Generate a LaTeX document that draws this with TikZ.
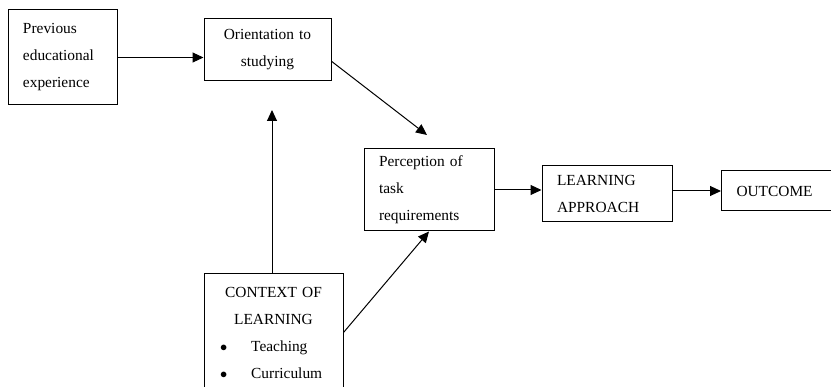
\documentclass[tikz,border=0pt]{standalone}
\usepackage{fontspec}
\setmainfont{Liberation Serif}
\usetikzlibrary{positioning}
\usetikzlibrary{arrows.meta}
\usetikzlibrary{calc}

\begin{document}
\begin{tikzpicture}[x=1pt,y=-1pt,
		box/.style={draw,line width=1pt,inner ysep=0pt,font=\fontsize{15.4}{27}\selectfont},
		arr/.style={line width=1pt,-{Triangle[length=11pt,width=10pt]}}]
		\useasboundingbox (0,0) rectangle (831,387);
		\node (prev)    [box,text width=79pt,inner xsep=15pt,align=left,minimum height=95pt] at (62.5,57.5) {Previous\\educational\\experience};
		\node (orient)  [box,text width=97pt,inner xsep=15pt,align=center,minimum height=62pt] at (267.5,50) {Orientation to\\studying};
		\node (percep)  [box,text width=100pt,inner xsep=15pt,align=left,minimum height=82pt] at (429,190) {Perception of\\task\\requirements};
		\node (learn)   [box,text width=100pt,inner xsep=15pt,align=left,minimum height=56pt] at (607,194) {LEARNING\\APPROACH};
		\node (outcome) [box,text width=90pt,inner xsep=15pt,align=left,minimum height=40pt,anchor=west] at (721,191) {OUTCOME};
		\node (context) [box,text width=109pt,inner xsep=15pt,align=center,minimum height=118pt,anchor=north] at (273.5,273)
			{CONTEXT OF\\LEARNING\\\makebox[107pt][l]{$\bullet$\hspace{24pt}Teaching}\\\makebox[107pt][l]{$\bullet$\hspace{24pt}Curriculum}};
		\coordinate (ctxtip) at (272,110);
		\coordinate (pertip) at (427,135);
		\draw [arr] (prev.east) -- (prev.east -| orient.west);
		\draw [arr] (context.north -| ctxtip) -- (ctxtip);
		\draw [arr] (orient.-10) -- (pertip);
		\draw [arr] (context.east) -- (percep.south);
		\draw [arr] (percep.east) -- (percep.east -| learn.west);
		\draw [arr] (outcome.west -| learn.east) -- (outcome.west);
	\end{tikzpicture}
\end{document}
